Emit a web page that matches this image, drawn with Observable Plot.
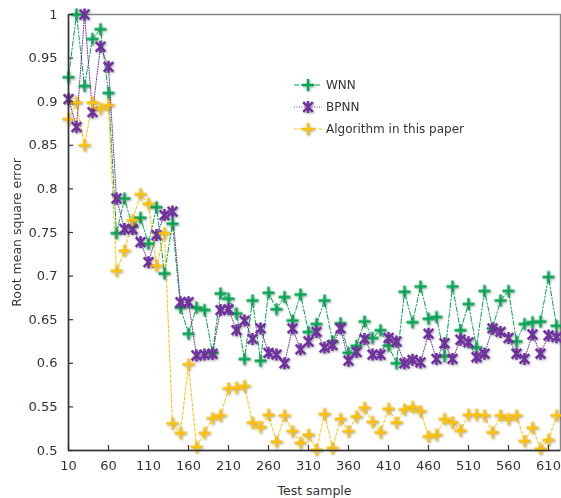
<!DOCTYPE html>
<html><head><meta charset="utf-8">
<script src="https://cdn.jsdelivr.net/npm/d3@7"></script>
<script src="https://cdn.jsdelivr.net/npm/@observablehq/plot@0.6"></script>
<style>
body{margin:0;background:#fff;}
#wrap{position:relative;width:561px;height:498px;font-family:"DejaVu Sans",Verdana,sans-serif;}
#legend{position:absolute;left:294px;top:74px;font-size:12px;color:#333;}
#legend .row{height:22px;display:flex;align-items:center;}
#legend svg{margin-right:4px;overflow:visible;}
</style></head><body><div id="wrap"></div>
<script>
const samples = [10,20,30,40,50,60,70,80,90,100,110,120,130,140,150,160,170,180,190,200,
  210,220,230,240,250,260,270,280,290,300,310,320,330,340,350,360,370,380,390,400,
  410,420,430,440,450,460,470,480,490,500,510,520,530,540,550,560,570,580,590,600,610,620];
const WNN = [0.928,1.000,0.918,0.972,0.983,0.910,0.749,0.789,0.757,0.767,0.737,0.779,0.703,0.760,0.664,0.634,0.664,0.661,0.612,0.680,
  0.674,0.657,0.605,0.672,0.603,0.681,0.662,0.676,0.649,0.679,0.636,0.645,0.672,0.625,0.646,0.612,0.620,0.648,0.629,0.638,
  0.620,0.600,0.682,0.647,0.688,0.651,0.653,0.608,0.688,0.638,0.668,0.618,0.683,0.640,0.672,0.683,0.625,0.645,0.647,0.648,0.699,0.643];
const BPNN = [0.903,0.871,1.000,0.888,0.963,0.940,0.789,0.754,0.754,0.739,0.716,0.747,0.770,0.774,0.670,0.670,0.609,0.610,0.611,0.661,
  0.662,0.638,0.649,0.628,0.640,0.612,0.610,0.600,0.640,0.616,0.625,0.636,0.618,0.621,0.640,0.603,0.613,0.628,0.610,0.610,
  0.629,0.625,0.600,0.604,0.601,0.634,0.605,0.623,0.605,0.627,0.624,0.607,0.611,0.640,0.636,0.629,0.611,0.605,0.633,0.611,0.632,0.630];
const ALG = [0.880,0.899,0.850,0.899,0.892,0.896,0.706,0.729,0.764,0.794,0.783,0.712,0.749,0.531,0.520,0.599,0.504,0.520,0.537,0.540,
  0.571,0.572,0.574,0.532,0.527,0.541,0.510,0.540,0.522,0.509,0.518,0.501,0.542,0.503,0.536,0.522,0.539,0.549,0.533,0.521,
  0.548,0.532,0.547,0.550,0.545,0.516,0.518,0.536,0.532,0.523,0.541,0.541,0.540,0.521,0.540,0.536,0.540,0.511,0.526,0.502,0.512,0.540];
const seriesNames = ["WNN","BPNN","Algorithm in this paper"];
const xTicks = [10,60,110,160,210,260,310,360,410,460,510,560,610];
const yTicks = [0.5,0.55,0.6,0.65,0.7,0.75,0.8,0.85,0.9,0.95,1];

const colors = ["#00a651","#7030a0","#ffc000"];
const dashes = ["5,2,1.5,2","1,1.5","3,2"];

const plusSymbol = {draw(ctx, size){const r = Math.sqrt(size/Math.PI);
  ctx.moveTo(-r,0); ctx.lineTo(r,0); ctx.moveTo(0,-r); ctx.lineTo(0,r);}};
const starSymbol = {draw(ctx, size){const r = Math.sqrt(size/Math.PI); const a = r*0.8;
  ctx.moveTo(-a,-a); ctx.lineTo(a,a); ctx.moveTo(a,-a); ctx.lineTo(-a,a); ctx.moveTo(0,-r); ctx.lineTo(0,r);}};
const symbols = [plusSymbol, starSymbol, plusSymbol];

const allSeries = [WNN, BPNN, ALG];
const tables = allSeries.map(vals => samples.map((s,i)=>({sample:s, value:vals[i]})));

const W = 561, H = 498, mT = 14, mB = 48, mL = 68, mR = 1;
const marks = [
  Plot.frame({stroke:"#888", strokeWidth:1.5}),
];
tables.forEach((t,k)=>{
  marks.push(Plot.line(t, {x:"sample", y:"value", stroke:colors[k], strokeWidth:1, strokeDasharray:dashes[k]}));
});
tables.forEach((t,k)=>{
  marks.push(Plot.dot(t, {x:"sample", y:"value", symbol:symbols[k], r:6, stroke:colors[k], strokeWidth:2.5, fill:"none"}));
});
marks.push(
  Plot.ruleX([10], {stroke:"#333", strokeWidth:1.5}),
  Plot.ruleY([0.5], {stroke:"#333", strokeWidth:1.5}),
  // inward tick marks
  Plot.tickX(xTicks, {x:d=>d, stroke:"#333", strokeWidth:1.2, insetTop:(H-mT-mB)-5}),
  Plot.tickY(yTicks, {y:d=>d, stroke:"#333", strokeWidth:1.2, insetRight:(W-mL-mR)-5}),
  Plot.axisY(yTicks, {tickSize:0, tickPadding:11, tickFormat:d=>String(+d.toFixed(2)), fontSize:13, color:"#333",
    label:"Root mean square error", labelAnchor:"center", labelOffset:56, labelArrow:"none"}),
  Plot.axisX(xTicks, {tickSize:0, tickPadding:10, tickFormat:d=>String(d), fontSize:13, color:"#333",
    label:"Test sample", labelAnchor:"center", labelOffset:44, labelArrow:"none"})
);

const chart = Plot.plot({
  width:W, height:H,
  marginTop:mT, marginBottom:mB, marginLeft:mL, marginRight:mR,
  style:{fontFamily:'"DejaVu Sans",Verdana,sans-serif', background:"#fff", color:"#333"},
  x:{domain:[10,625]},
  y:{domain:[0.5,1]},
  marks
});
d3.select(chart).selectAll('g[aria-label="dot"]').style("filter","drop-shadow(1.5px 1.5px 1px rgba(0,0,0,0.35))");
d3.select(chart).selectAll('g[aria-label="y-axis label"] text, g[aria-label="x-axis label"] text').style("font-size","12.5px");
document.getElementById("wrap").appendChild(chart);

// legend
const legend = d3.select("#wrap").append("div").attr("id","legend");
seriesNames.forEach((name,k)=>{
  const row = legend.append("div").attr("class","row");
  const s = row.append("svg").attr("width",28).attr("height",14);
  s.append("line").attr("x1",0).attr("x2",28).attr("y1",7).attr("y2",7)
    .attr("stroke",colors[k]).attr("stroke-width",1).attr("stroke-dasharray",dashes[k]);
  const p = d3.path(); symbols[k].draw(p, 6*6*Math.PI);
  s.append("path").attr("d",p.toString()).attr("transform","translate(14,7)")
    .attr("stroke",colors[k]).attr("stroke-width",2.5).attr("fill","none")
    .style("filter","drop-shadow(1.5px 1.5px 1px rgba(0,0,0,0.35))");
  row.append("span").text(name);
});
</script></body></html>
